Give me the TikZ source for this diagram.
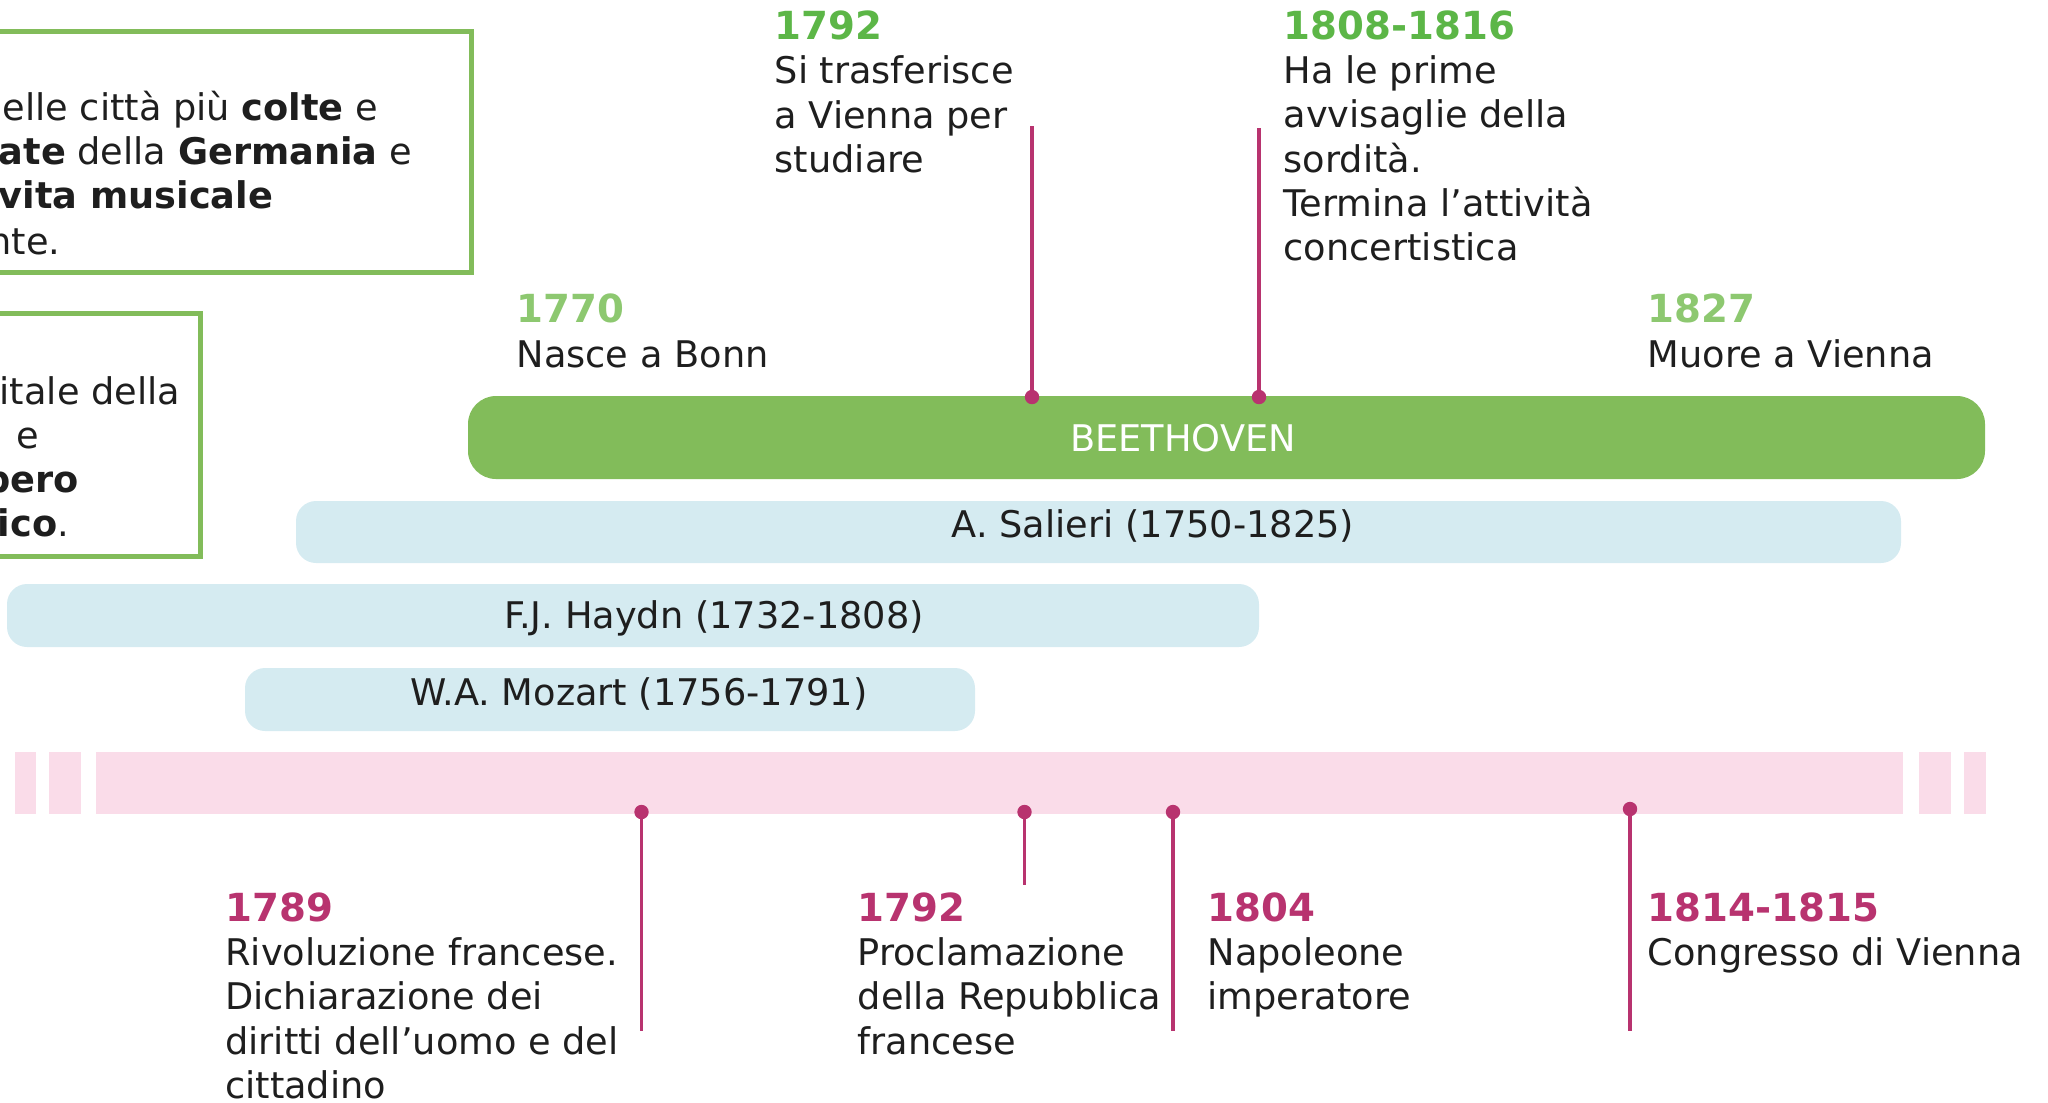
\documentclass[tikz,border=0pt]{standalone}
\usepackage{fontspec}
\setmainfont{DejaVu Sans}
\usetikzlibrary{positioning}
\tikzset{>=latex}

\definecolor{verdebox}{HTML}{82BC5A}
\definecolor{verdeanno}{HTML}{5CB647}
\definecolor{verdechiaro}{HTML}{8DC870}
\definecolor{magentaev}{HTML}{B8336F}
\definecolor{rosabarra}{HTML}{FADCE9}
\definecolor{azzurro}{HTML}{D5EBF1}
\definecolor{testo}{HTML}{1E1E1E}

\newcommand{\anno}[2]{{\fontsize{11pt}{12.6pt}\selectfont\bfseries\color{#1}#2}}

\tikzset{
  corpo/.style={font=\fontsize{10.44pt}{12.6pt}\selectfont, text=testo, inner sep=0pt},
  evento/.style={corpo, anchor=north west, align=left},
  riga/.style={corpo, anchor=base west},
  nome/.style={corpo, anchor=base},
  cornice/.style={draw=verdebox, line width=0.05cm},
  asta/.style={draw=magentaev, line width=0.035cm},
  punto/.style={fill=magentaev},
}

\begin{document}
\begin{tikzpicture}[x=0.01cm,y=-0.01cm]
\useasboundingbox (0,0) rectangle (2048,1102);
\clip (0,0) rectangle (2048,1102);

% riquadri tagliati a sinistra
\draw[cornice] (-20,31) rectangle (471.5,272.5);
\node[riga] (bonn1) at (2,120.5) {elle città più \textbf{colte} e};
\node[riga] (bonn2) at (-2,164.6) {\textbf{ate} della \textbf{Germania} e};
\node[riga] (bonn3) at (-2,208.6) {\textbf{vita musicale}};
\node[riga] (bonn4) at (-12,254.5) {nte.};

\draw[cornice] (-20,313.5) rectangle (200.5,556.5);
\node[riga] (vie1) at (-1,404) {itale della};
\node[riga] (vie2) at (16,448) {e};
\node[riga] (vie3) at (-16,492) {\textbf{pero}};
\node[riga] (vie4) at (-3,536) {\textbf{ico}.};

% barre
\fill[verdebox, rounded corners=0.28cm] (468,396) rectangle (1985,479);
\node[nome, text=white] (beet) at (1183,451.6) {BEETHOVEN};
\fill[azzurro, rounded corners=0.2cm] (296,501) rectangle (1901,563);
\node[nome] (salieri) at (1153,537.7) {A. Salieri (1750-1825)};
\fill[azzurro, rounded corners=0.2cm] (7,584) rectangle (1259,647);
\node[nome] (haydn) at (714,628) {F.J. Haydn (1732-1808)};
\fill[azzurro, rounded corners=0.2cm] (245,668) rectangle (975,731);
\node[nome] (mozart) at (639,705) {W.A. Mozart (1756-1791)};

\foreach \a/\b in {15/36, 49/81, 96/1903, 1919/1951, 1964/1986}
  \fill[rosabarra] (\a,752) rectangle (\b,814);

% eventi beethoven
\node[evento] (e1770) at (516,293.3) {\anno{verdechiaro}{1770}\\Nasce a Bonn};
\node[evento] (e1792) at (774,10.1) {\anno{verdeanno}{1792}\\Si trasferisce\\a Vienna per\\studiare};
\node[evento] (e1808) at (1283,9.8) {\anno{verdeanno}{1808-1816}\\Ha le prime\\avvisaglie della\\sordità.\\Termina l’attività\\concertistica};
\node[evento] (e1827) at (1647,293.3) {\anno{verdechiaro}{1827}\\Muore a Vienna};

% eventi storici
\node[evento] (s1789) at (224.6,891.8) {\anno{magentaev}{1789}\\Rivoluzione francese.\\Dichiarazione dei\\diritti dell’uomo e del\\cittadino};
\node[evento] (s1792) at (857,891.8) {\anno{magentaev}{1792}\\Proclamazione\\della Repubblica\\francese};
\node[evento] (s1804) at (1207,891.8) {\anno{magentaev}{1804}\\Napoleone\\imperatore};
\node[evento] (s1814) at (1647,891.8) {\anno{magentaev}{1814-1815}\\Congresso di Vienna};

% aste
\coordinate (p1792) at (1032,397);  \coordinate (c1792) at (1032,126);
\coordinate (p1808) at (1259,397);  \coordinate (c1808) at (1259,128);
\coordinate (q1789) at (641.5,812); \coordinate (f1789) at (641.5,1031);
\coordinate (q1792) at (1024.5,812); \coordinate (f1792) at (1024.5,884.5);
\coordinate (q1804) at (1173,812);  \coordinate (f1804) at (1173,1031);
\coordinate (q1814) at (1630,809);  \coordinate (f1814) at (1630,1031);
\foreach \p/\c in {p1792/c1792, p1808/c1808, q1789/f1789, q1792/f1792, q1804/f1804, q1814/f1814}{
  \draw[asta] (\p) -- (\c);
  \fill[punto] (\p) circle (0.072cm);
}
\end{tikzpicture}
\end{document}
